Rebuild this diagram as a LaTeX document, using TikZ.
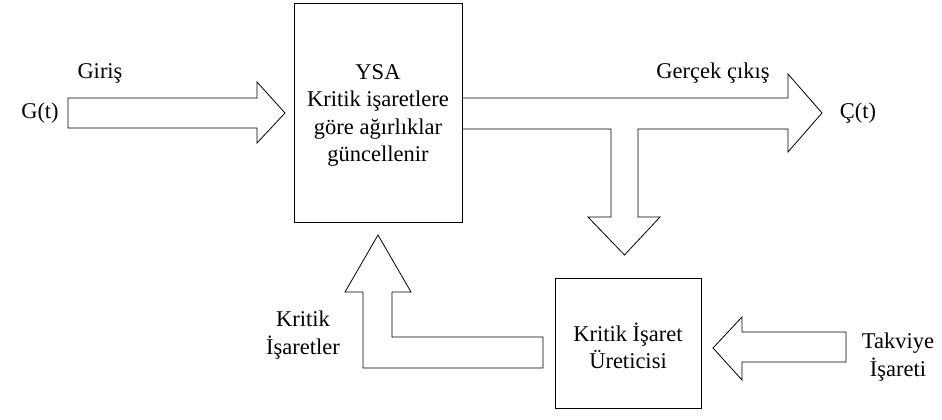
\documentclass[tikz,border=0pt]{standalone}
\usepackage{fontspec}
\setmainfont{Liberation Serif}
\usetikzlibrary{calc,positioning}
\tikzset{
  blok/.style={draw, line width=0.8pt, inner sep=0pt},
  okblok/.style={draw, line width=0.8pt, line join=miter},
  etiket/.style={align=center, inner sep=0pt}
}
\begin{document}
\begin{tikzpicture}[x=1pt, y=-1pt, font=\fontsize{22.5}{27.5}\selectfont]
\useasboundingbox (0,0) rectangle (942,420);
% boxes
\node[blok, minimum width=168pt, minimum height=219pt] (ysa) at (378,112.5) {};
\node[etiket] (ysametin) at ($(ysa.center)+(0,3)$)
  {YSA\\Kritik işaretlere\\göre ağırlıklar\\güncellenir};
\node[blok, minimum width=146pt, minimum height=130pt] (kiu) at (628,343) {};
\node[etiket] (kiumetin) at ($(kiu.center)+(0,3)$) {Kritik İşaret\\Üreticisi};
% input arrow
\draw[okblok] (68,98) -- (257,98) -- (257,82) -- (285,113) -- (257,143) -- (257,128) -- (68,128) -- cycle;
% output arrow with branch down
\draw[okblok] (ysa.east |- 0,98) -- (788,98) -- (788,74) -- (822,113) -- (788,152) -- (788,129)
  -- (638,129) -- (638,217) -- (660,217) -- (624.5,255) -- (588,217) -- (611,217) -- (611,129)
  -- (ysa.east |- 0,129);
% feedback arrow
\draw[okblok] (543,337) -- (392,337) -- (392,292) -- (411,292) -- (378,235) -- (345,292)
  -- (363,292) -- (363,368) -- (543,368) -- cycle;
% reinforcement arrow
\draw[okblok] (846,332) -- (742,332) -- (742,317) -- (713,348) -- (742,380) -- (742,362)
  -- (846,362) -- cycle;
% labels
\node[etiket] (gt) at (40,113) {G(t)};
\node[etiket] (giris) at (100,73) {Giriş};
\node[etiket] (gercek) at (713,73) {Gerçek çıkış};
\node[etiket] (ct) at (858,113) {Ç(t)};
\node[etiket] (kis) at (303,335) {Kritik\\İşaretler};
\node[etiket] (tak) at (898,357) {Takviye\\İşareti};
\end{tikzpicture}
\end{document}
